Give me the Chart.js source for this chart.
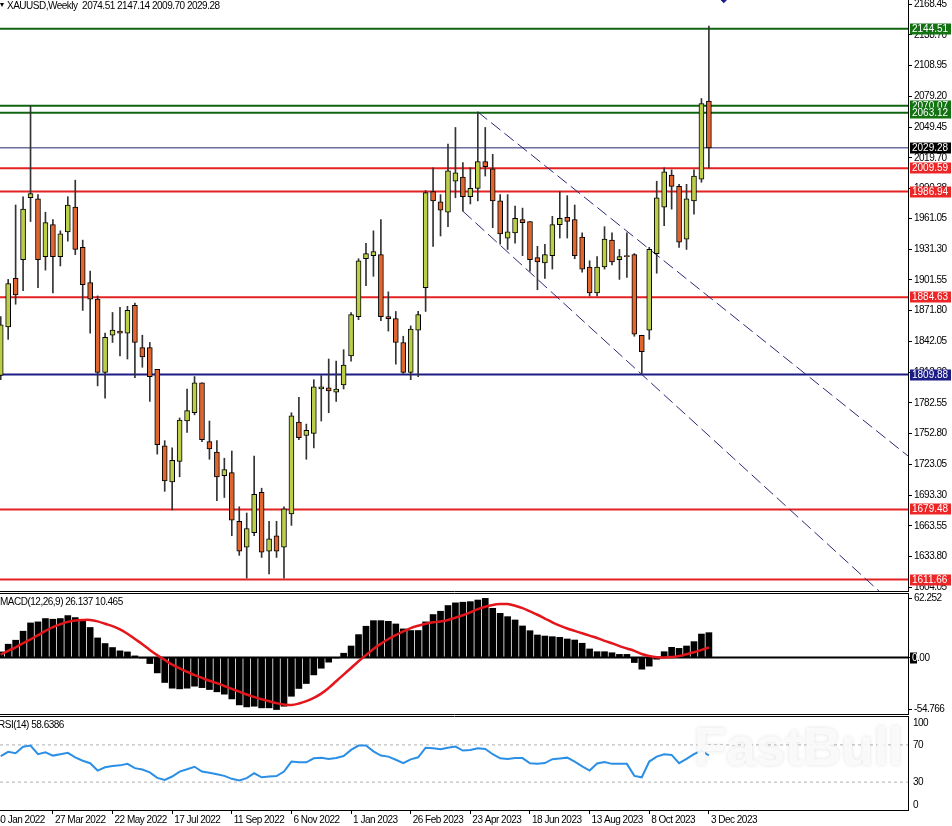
<!DOCTYPE html>
<html>
<head>
<meta charset="utf-8">
<script src="https://cdn.jsdelivr.net/npm/chart.js@4.4.0/dist/chart.umd.min.js"></script>
<style>
  html, body { margin: 0; padding: 0; background: #fff; overflow: hidden; }
  canvas { position: absolute; left: 0; display: block; }
</style>
</head>
<body>
<canvas id="price" width="952" height="592" style="top:0"></canvas>
<canvas id="macd" width="952" height="124" style="top:592px"></canvas>
<canvas id="rsi" width="952" height="110" style="top:716px"></canvas>
<script>
// weekly bars, index 0 = 9 Jan 2022; visible bars start at index 4
const firstBar = 4;

const opens = [1809, 1856, 1903, 1921, 1981, 1980, 1924, 1955, 1924, 1948,
  1972, 1933, 1899, 1883, 1812, 1848, 1852, 1850, 1877, 1836,
  1836, 1815, 1741, 1706, 1726, 1765, 1773, 1802, 1745, 1735,
  1712, 1715, 1668, 1643, 1657, 1696, 1639, 1654, 1643, 1675,
  1764, 1751, 1753, 1796, 1797, 1793, 1800, 1828, 1866, 1922,
  1925, 1926, 1866, 1864, 1841, 1812, 1853, 1894, 1987, 1977,
  1967, 1997, 2001, 1982, 1990, 2016, 2009, 1978, 1942, 1947,
  1960, 1958, 1923, 1918, 1925, 1955, 1962, 1960, 1943, 1914,
  1889, 1914, 1940, 1921, 1925, 1926, 1848, 1853, 1927, 1972,
  2003, 1992, 1941, 1978, 1999, 2074.51];
const highs = [1866, 1902, 1974, 1982, 2070, 1984, 1967, 1960, 1949, 1982,
  1998, 1940, 1910, 1886, 1850, 1870, 1875, 1876, 1879, 1848,
  1841, 1815, 1746, 1739, 1768, 1796, 1808, 1802, 1765, 1746,
  1729, 1736, 1682, 1676, 1731, 1700, 1668, 1668, 1682, 1773,
  1788, 1762, 1805, 1809, 1825, 1823, 1834, 1870, 1922, 1937,
  1949, 1960, 1890, 1871, 1847, 1857, 1871, 1988, 2010, 1984,
  2033, 2049, 2015, 2010, 2064, 2049, 2023, 1984, 1984, 1973,
  1971, 1958, 1934, 1936, 1963, 1987, 1983, 1974, 1947, 1920,
  1924, 1953, 1947, 1931, 1947, 1927, 1848, 1933, 1997, 2010,
  2008, 1994, 1994, 2008, 2077, 2147.14];
const lows = [1805, 1844, 1878, 1891, 1958, 1894, 1911, 1889, 1915, 1939,
  1926, 1872, 1850, 1799, 1787, 1841, 1828, 1825, 1807, 1817,
  1784, 1733, 1697, 1679, 1711, 1754, 1771, 1745, 1728, 1688,
  1691, 1654, 1635, 1613, 1654, 1633, 1617, 1633, 1613, 1664,
  1747, 1728, 1739, 1765, 1773, 1784, 1796, 1823, 1863, 1896,
  1905, 1862, 1852, 1820, 1811, 1805, 1808, 1871, 1934, 1944,
  1953, 1981, 1968, 1975, 1978, 2002, 1952, 1936, 1931, 1937,
  1925, 1910, 1892, 1903, 1912, 1942, 1942, 1922, 1909, 1886,
  1886, 1912, 1916, 1902, 1904, 1847, 1810, 1844, 1908, 1954,
  1970, 1933, 1931, 1965, 1996, 2009.70];
const closes = [1858, 1898, 1887, 1970, 1985, 1921, 1957, 1924, 1946, 1974,
  1931, 1897, 1883, 1812, 1846, 1853, 1850, 1872, 1841, 1827,
  1808, 1742, 1707, 1727, 1766, 1775, 1802, 1747, 1738, 1711,
  1718, 1669, 1639, 1661, 1694, 1638, 1651, 1639, 1680, 1770,
  1749, 1756, 1798, 1798, 1794, 1796, 1819, 1868, 1920, 1927,
  1929, 1866, 1864, 1841, 1812, 1854, 1868, 1986, 1978, 1969,
  2007, 2005, 1982, 1990, 2016, 2011, 1978, 1946, 1948, 1961,
  1957, 1921, 1919, 1926, 1955, 1961, 1958, 1925, 1912, 1889,
  1914, 1941, 1919, 1924, 1924, 1849, 1832, 1931, 1981, 2006,
  1992, 1938, 1980, 2002, 2072, 2029.28];

const macdHist = [5.9, 14, 18.2, 27.7, 36.4, 37.5, 41, 40.3, 41, 44.1,
  42, 38.4, 31.6, 20.6, 14.7, 10.5, 7, 5.9, 1.7, -0.5,
  -6.4, -16.2, -26.3, -32.3, -33, -32.3, -30.2, -31.7, -33.7, -36.1,
  -38.6, -43.6, -49.9, -52, -51.3, -53, -53, -54.766, -51.3, -40.8,
  -32.6, -27.4, -18.3, -11.3, -4.9, -0.5, 4.5, 12.1, 24.1, 32.9,
  38.8, 38.8, 38.1, 35.3, 30.1, 28.4, 28.4, 37.5, 45.2, 48.7,
  54.7, 57.5, 58.2, 58.8, 60.5, 62.252, 51.8, 46.5, 43, 39.5,
  33.2, 28.2, 23.7, 22.6, 21.9, 21.2, 19.5, 18.4, 15, 9,
  6.1, 6.1, 5, 3.3, 3.3, -5.3, -12.3, -9.1, -1.8, 6.1,
  10.7, 9.6, 12.1, 16.7, 24.7, 26.137];
const macdSignal = [3, 7, 10.7, 15, 19, 23.5, 28, 32, 35, 37.5,
  39, 39.5, 39.5, 38, 35.5, 33, 29.5, 25, 19.5, 14,
  8, 2.5, -2.5, -7.5, -11.5, -15, -18.5, -21.5, -24.5, -27,
  -30, -33, -36, -39, -41.5, -44, -46, -48, -49.5, -50,
  -48.5, -46, -42.5, -38, -32, -25, -18, -11, -4, 2.5,
  9, 14.5, 19.5, 23.5, 27.5, 31, 33.5, 35.5, 37, 38,
  39.5, 42, 44.5, 47.5, 51, 53.5, 55.3, 56.2, 56.3, 54.5,
  52, 48.5, 45, 41, 37, 33.5, 30.5, 28, 25.5, 23,
  20.5, 17.5, 15, 12, 9.5, 7, 3.7, 1.5, 0.2, 0,
  0.5, 1.5, 3.5, 5.5, 8, 10.465];
const rsi = [58, 62.5, 61, 68, 69.3, 60, 62, 58.5, 60, 61.5,
  56.5, 53, 50.3, 42.4, 46, 47.4, 48, 49.6, 45, 43.5,
  40.5, 34.5, 32.4, 36, 41.3, 43.8, 46.5, 41.3, 40, 38.5,
  36.7, 33.5, 31.7, 34.2, 39.5, 35.2, 36, 36.5, 41.3, 52.1,
  51.3, 51.3, 55.6, 56.3, 54.9, 56, 58.1, 64.6, 69.3, 69.3,
  63, 58.5, 57.4, 54, 50.3, 54.5, 56.7, 67, 66.4, 65.4,
  67, 68.2, 63.9, 64.6, 66.4, 65.7, 60, 55.6, 54.9, 56,
  55.8, 50.3, 49.8, 50.5, 54.6, 55.5, 56.3, 52.1, 47, 42.4,
  50, 51.7, 49.6, 49.6, 49.6, 36.7, 35.2, 52.1, 57.4, 59.9,
  59.2, 50.3, 54.9, 60, 63.9, 58.6386];

// horizontal levels and trend lines drawn on the chart
const levels = [2144.51, 2070.07, 2063.12, 2029.28, 2009.59, 1986.94, 1884.63, 1809.88, 1679.48, 1611.66];
const upperTrend = [[68, 2064], [126, 1729.5]];
const lowerTrend = [[66, 1968], [126, 1573]];
const arrowMark = [101, 2172.6];

// axis ticks
const priceTicks = [1604.05, 1633.80, 1663.55, 1693.30, 1723.05, 1752.80, 1782.55, 1812.30, 1842.05, 1871.80,
  1901.55, 1931.30, 1961.05, 1990.38, 2019.70, 2049.45, 2079.20, 2108.95, 2138.70, 2168.45];
const macdTicks = [62.252, 0, -54.766];
const rsiLevels = [70, 30];
const rsiTicks = [100, 70, 30, 0];
const dateTickIdx = [3, 11, 19, 27, 35, 43, 51, 59, 67, 75, 83, 91, 99];
const dateLabels = ['30 Jan 2022', '27 Mar 2022', '22 May 2022', '17 Jul 2022', '11 Sep 2022', '6 Nov 2022',
  '1 Jan 2023', '26 Feb 2023', '23 Apr 2023', '18 Jun 2023', '13 Aug 2023', '8 Oct 2023', '3 Dec 2023'];

// view ranges and styles
const X_MIN = 3.904, X_MAX = 125.71;
const P_MIN = 1600.54, P_MAX = 2172.32;
const M_MIN = -59.47, M_MAX = 66.84;
const FAMILY = "'Liberation Sans', Arial, sans-serif";
const TIGHT = '-0.5px';
const BULL = '#bccd48', BEAR = '#e0652f';
const GREEN = '#0f650f', RED = '#e42222', NAVY = '#1c1c86';
const levelLineColors = [GREEN, GREEN, GREEN, '#23236e', RED, RED, RED, NAVY, RED, RED];
const levelBoxColors = ['#137313', '#137313', '#137313', '#000', '#ec2626', '#ec2626', '#ec2626', NAVY, '#ec2626', '#ec2626'];
const levelWidths = [2, 2, 2, 1, 2, 2, 2, 2, 2, 2];

// narrow the text a little, MT4 uses a condensed system font
Chart.register({ id: 'tightText', beforeDraw(chart) { chart.ctx.letterSpacing = TIGHT; } });

const bars = opens.map((o, k) => firstBar + k);
const pts = arr => arr.map((v, k) => ({ x: bars[k], y: v }));
const span = v => [{ x: X_MIN, y: v }, { x: X_MAX, y: v }];

function yAxis(extra) {
  return Object.assign({
    position: 'right',
    beginAtZero: false,
    afterFit: s => { s.width = 44; s.paddingTop = 0; s.paddingBottom = 0; },
    grid: { drawOnChartArea: false, tickLength: 4, color: '#000' },
    border: { color: '#000', width: 1 },
  }, extra);
}
const hiddenX = { type: 'linear', min: X_MIN, max: X_MAX, offset: false, display: false, grid: { offset: false } };
const tickFont = { family: FAMILY, size: 10 };

function baseOptions(scales, padding) {
  return {
    responsive: false, animation: false, devicePixelRatio: 1, events: [],
    layout: { padding, autoPadding: false },
    plugins: { legend: { display: false }, tooltip: { enabled: false } },
    scales
  };
}

// ---------- price pane ----------
const priceDecor = {
  id: 'priceDecor',
  afterDraw(chart) {
    const { ctx, chartArea: a } = chart;
    const y = chart.scales.y;
    ctx.save();
    ctx.strokeStyle = '#000';
    ctx.lineWidth = 1;
    ctx.beginPath();
    ctx.moveTo(0, a.bottom + 0.5);
    ctx.lineTo(a.right + 1, a.bottom + 0.5);
    ctx.stroke();

    ctx.font = '10px ' + FAMILY;
    ctx.textBaseline = 'middle';
    ctx.letterSpacing = '0px';
    levels.forEach((v, k) => {
      const py = Math.round(y.getPixelForValue(v));
      ctx.fillStyle = levelBoxColors[k];
      ctx.fillRect(a.right + 2, py - 5.5, 952 - a.right - 3, 11);
      ctx.fillStyle = '#fff';
      ctx.fillText(v.toFixed(2), a.right + 4, py + 0.5);
    });

    ctx.letterSpacing = TIGHT;
    ctx.fillStyle = '#000';
    ctx.beginPath();
    ctx.moveTo(0, 3); ctx.lineTo(4, 3); ctx.lineTo(2, 7); ctx.closePath();
    ctx.fill();
    const n = opens.length - 1;
    ctx.fillText('XAUUSD,Weekly  ' + [opens[n], highs[n], lows[n], closes[n]].map(v => v.toFixed(2)).join(' '), 7, 6);
    ctx.restore();
  }
};

new Chart(document.getElementById('price'), {
  type: 'bar',
  data: {
    datasets: [
      {
        type: 'line', data: [{ x: arrowMark[0], y: arrowMark[1] }], showLine: false,
        pointStyle: 'rectRot', pointRadius: 3, pointBackgroundColor: NAVY, pointBorderColor: NAVY,
        clip: 4, order: 0
      },
      {
        type: 'bar', data: bars.map((x, k) => ({ x, y: [opens[k], closes[k]] })),
        backgroundColor: opens.map((o, k) => closes[k] >= o ? BULL : BEAR),
        borderColor: '#000', borderWidth: 1, borderSkipped: false,
        barThickness: 5, grouped: false, minBarLength: 1, order: 1
      },
      {
        type: 'bar', data: bars.map((x, k) => ({ x, y: [lows[k], highs[k]] })),
        backgroundColor: '#333', borderWidth: 0, barThickness: 1, grouped: false, order: 2
      },
      ...[upperTrend, lowerTrend].map(t => ({
        type: 'line', data: t.map(([x, y]) => ({ x, y })), borderColor: '#2a2a78',
        borderWidth: 1, borderDash: [12, 5], pointRadius: 0, order: 3
      })),
      ...levels.map((v, k) => ({
        type: 'line', data: span(v), borderColor: levelLineColors[k],
        borderWidth: levelWidths[k], pointRadius: 0, order: 4
      }))
    ]
  },
  options: baseOptions({
    x: hiddenX,
    y: yAxis({
      min: P_MIN, max: P_MAX,
      afterBuildTicks: s => { s.ticks = priceTicks.map(v => ({ value: v })); },
      ticks: { font: tickFont, color: '#000', padding: 2, autoSkip: false, callback: v => v.toFixed(2) }
    })
  }, { top: 0, bottom: 1, left: 0, right: 0 }),
  plugins: [priceDecor]
});

// ---------- MACD pane ----------
const macdDecor = {
  id: 'macdDecor',
  afterDraw(chart) {
    const { ctx, chartArea: a } = chart;
    const y = chart.scales.y;
    ctx.save();
    ctx.strokeStyle = '#000';
    ctx.lineWidth = 1;
    ctx.beginPath();
    ctx.moveTo(0, a.top - 0.5); ctx.lineTo(a.right + 1, a.top - 0.5);
    ctx.moveTo(0, a.bottom + 0.5); ctx.lineTo(a.right + 1, a.bottom + 0.5);
    ctx.stroke();

    ctx.font = '10px ' + FAMILY;
    ctx.letterSpacing = TIGHT;
    ctx.textBaseline = 'middle';
    ctx.fillStyle = '#000';
    const n = macdHist.length - 1;
    ctx.fillText('MACD(12,26,9) ' + macdHist[n].toFixed(3) + ' ' + macdSignal[n].toFixed(3), 0, 10);

    const py = Math.round(y.getPixelForValue(0));
    ctx.fillText('0.00', a.right + 4, py + 0.5);
    ctx.fillRect(a.right + 2, py - 5.5, 7, 11);
    ctx.beginPath();
    ctx.rect(a.right + 2, py - 5.5, 7, 11);
    ctx.clip();
    ctx.fillStyle = '#fff';
    ctx.fillText('0.00', a.right + 4, py + 0.5);
    ctx.restore();
  }
};

new Chart(document.getElementById('macd'), {
  type: 'bar',
  data: {
    datasets: [
      {
        type: 'line', data: pts(macdSignal), borderColor: '#e3161b', borderWidth: 2.5,
        pointRadius: 0, tension: 0.4, order: 0
      },
      { type: 'line', data: span(0), borderColor: '#000', borderWidth: 2, pointRadius: 0, order: 1 },
      {
        type: 'bar', data: pts(macdHist), backgroundColor: '#000', borderWidth: 0,
        barThickness: 6, grouped: false, order: 2
      }
    ]
  },
  options: baseOptions({
    x: hiddenX,
    y: yAxis({
      min: M_MIN, max: M_MAX,
      afterBuildTicks: s => { s.ticks = macdTicks.map(v => ({ value: v })); },
      ticks: {
        font: tickFont, color: '#000', padding: 2, autoSkip: false,
        callback: v => v === 0 ? '' : String(v)
      }
    })
  }, { top: 2, bottom: 2, left: 0, right: 0 }),
  plugins: [macdDecor]
});

// ---------- RSI pane ----------
const rsiDecor = {
  id: 'rsiDecor',
  afterDatasetsDraw(chart) {
    const { ctx } = chart;
    ctx.save();
    ctx.letterSpacing = '0px';
    ctx.font = 'bold 53px ' + FAMILY;
    ctx.textBaseline = 'alphabetic';
    ctx.shadowColor = 'rgba(0,0,0,0.13)';
    ctx.shadowBlur = 4;
    ctx.fillStyle = 'rgba(251,251,251,0.92)';
    ctx.fillText('FastBull', 694, 49);
    ctx.restore();
  },
  afterDraw(chart) {
    const { ctx, chartArea: a } = chart;
    const y = chart.scales.y;
    ctx.save();
    ctx.strokeStyle = '#000';
    ctx.lineWidth = 1;
    ctx.beginPath();
    ctx.moveTo(0, a.top - 0.5); ctx.lineTo(a.right + 1, a.top - 0.5);
    ctx.stroke();
    ctx.font = '10px ' + FAMILY;
    ctx.letterSpacing = TIGHT;
    ctx.textBaseline = 'middle';
    ctx.fillStyle = '#000';
    rsiTicks.forEach(v => {
      const py = Math.min(Math.max(y.getPixelForValue(v), a.top + 6), a.bottom - 5);
      ctx.fillText(String(v), a.right + 5, py);
    });
    ctx.fillText('RSI(14) ' + rsi[rsi.length - 1].toFixed(4), -2, 9);
    ctx.restore();
  }
};

new Chart(document.getElementById('rsi'), {
  type: 'line',
  data: {
    datasets: [
      { data: pts(rsi), borderColor: '#2b8fe5', borderWidth: 2, pointRadius: 0, tension: 0, order: 0 },
      ...rsiLevels.map(v => ({
        data: span(v), borderColor: '#b0b0b0', borderWidth: 1, borderDash: [3, 3], pointRadius: 0, order: 1
      }))
    ]
  },
  options: baseOptions({
    x: {
      type: 'linear', min: X_MIN, max: X_MAX, offset: false, position: 'bottom',
      afterBuildTicks: s => { s.ticks = dateTickIdx.map(v => ({ value: v })); },
      afterFit: s => { s.height = 16; s.paddingLeft = 0; s.paddingRight = 0; },
      ticks: {
        font: tickFont, color: '#000', padding: 0, labelOffset: 2, align: 'start',
        maxRotation: 0, minRotation: 0, autoSkip: false,
        callback: (v, i) => dateLabels[i]
      },
      grid: { drawOnChartArea: false, tickLength: 4, color: '#000', offset: false },
      border: { color: '#000', width: 1 }
    },
    y: yAxis({
      min: 0, max: 100,
      ticks: { display: false },
      grid: { display: false }
    })
  }, { top: 1, bottom: 0, left: 0, right: 0 }),
  plugins: [rsiDecor]
});
</script>
</body>
</html>
